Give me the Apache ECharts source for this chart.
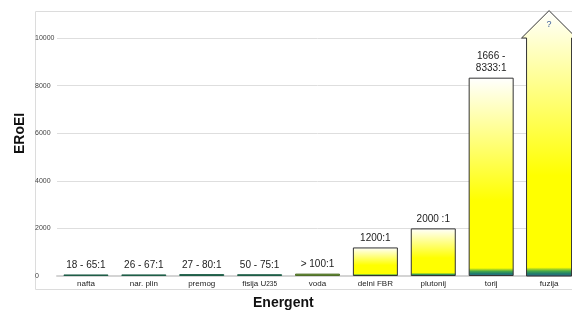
<!DOCTYPE html>
<html><head><meta charset="utf-8">
<script src="https://cdn.jsdelivr.net/npm/echarts@6/dist/echarts.min.js"></script>
<style>html,body{margin:0;padding:0;background:#fff;overflow:hidden}#c{width:600px;height:312px}</style>
</head><body><div id="c"></div>
<script>
var categories = ['nafta', 'nar. plin', 'premog', 'fisija U235', 'voda', 'delni FBR', 'plutonij', 'torij', 'fuzija'];
var values = [65, 67, 80, 75, 100, 1200, 2000, 8333, null];
var valueLabels = ['18 - 65:1', '26 - 67:1', '27 - 80:1', '50 - 75:1', '> 100:1', '1200:1', '2000 :1', '1666 -\n8333:1', '?'];
var fusionBody = 10000;
var fusionTip = 11150;
var yTicks = [0, 2000, 4000, 6000, 8000, 10000];

var FONT = '"Liberation Sans", Arial, sans-serif';
function grad(f) {
  return new echarts.graphic.LinearGradient(0, 0, 0, 1, [
    {offset: 0, color: '#ffffff'},
    {offset: 0.62, color: '#ffff00'},
    {offset: 1 - f, color: '#ffff00'},
    {offset: 1 - f * 0.6, color: '#46a84a'},
    {offset: 1 - f * 0.3, color: '#1f7d6c'},
    {offset: 1, color: '#36618e'}
  ]);
}
var stripe = [1, 1, 1, 1, 1, 0.07, 0.065, 0.04, 0.038];
var smallColors = ['#2e8a62', '#2e8a62', '#2e8a62', '#2e8a62', '#74a03e'];
var smallBorders = ['#1f5e48', '#1f5e48', '#1f5e48', '#1f5e48', '#4f6e2a'];

var barData = values.map(function (v, i) {
  if (v === null) return '-';
  var item = {value: v, label: {formatter: valueLabels[i]}};
  if (i < 5) item.itemStyle = {color: smallColors[i], borderColor: smallBorders[i]};
  else item.itemStyle = {color: grad(stripe[i])};
  return item;
});

var chart = echarts.init(document.getElementById('c'));
chart.setOption({
  animation: false,
  textStyle: {fontFamily: FONT},
  grid: {left: 57, width: 521, top: 38, bottom: 36, containLabel: false},
  graphic: [
    {type: 'rect', z: -10, shape: {x: 35.5, y: 11.5, width: 545, height: 278}, style: {fill: 'none', stroke: '#dcdcdc', lineWidth: 1}},
    {type: 'text', left: 253, top: 296, style: {text: 'Energent', font: 'bold 14px ' + FONT, fill: '#111'}},
    {type: 'text', x: 13, y: 154, rotation: Math.PI / 2, style: {text: 'ERoEI', font: 'bold 14px ' + FONT, fill: '#111'}}
  ],
  xAxis: {
    type: 'category', data: categories,
    axisTick: {show: false},
    axisLine: {lineStyle: {color: '#d4d4d4', width: 2}},
    axisLabel: {
      interval: 0, margin: 4, fontSize: 8, color: '#222', fontFamily: FONT,
      formatter: function (v) { return v === 'fisija U235' ? 'fisija U{s|235}' : v; },
      rich: {s: {fontSize: 6.5, color: '#222', fontFamily: FONT, padding: [1, 0, 0, 0]}}
    }
  },
  yAxis: {
    type: 'value', min: 0, max: 10000, interval: 2000,
    axisLine: {show: false}, axisTick: {show: false},
    splitLine: {lineStyle: {color: '#dedede', width: 1}},
    axisLabel: {align: 'left', margin: 22, fontSize: 7, color: '#444', fontFamily: FONT,
      formatter: function (v) { return yTicks.indexOf(v) >= 0 ? String(v) : ''; }}
  },
  series: [
    {
      type: 'bar', data: barData, barWidth: 45, clip: false,
      itemStyle: {borderColor: '#333', borderWidth: 1},
      label: {show: true, position: 'top', distance: 3, fontSize: 10, color: '#222', fontFamily: FONT, lineHeight: 12}
    },
    {
      type: 'custom', clip: false,
      data: [[8, fusionBody, fusionTip]],
      renderItem: function (params, api) {
        var base = api.coord([api.value(0), 0]);
        var body = api.coord([api.value(0), api.value(1)]);
        var tip = api.coord([api.value(0), api.value(2)]);
        var hw = 22.5, oh = 5;
        var cx = base[0];
        var pts = [
          [cx - hw, base[1]], [cx - hw, body[1]], [cx - hw - oh, body[1]],
          [cx, tip[1]],
          [cx + hw + oh, body[1]], [cx + hw, body[1]], [cx + hw, base[1]]
        ];
        return {
          type: 'group',
          children: [
            {type: 'polygon', shape: {points: pts},
              style: {fill: grad(stripe[8] * 0.9), stroke: '#333', lineWidth: 1}},
            {type: 'text', style: {text: valueLabels[8], x: cx, y: tip[1] + 14, align: 'center', verticalAlign: 'middle',
              fontSize: 9, fill: '#3b5e9a', fontFamily: FONT}}
          ]
        };
      }
    }
  ]
});
</script></body></html>
